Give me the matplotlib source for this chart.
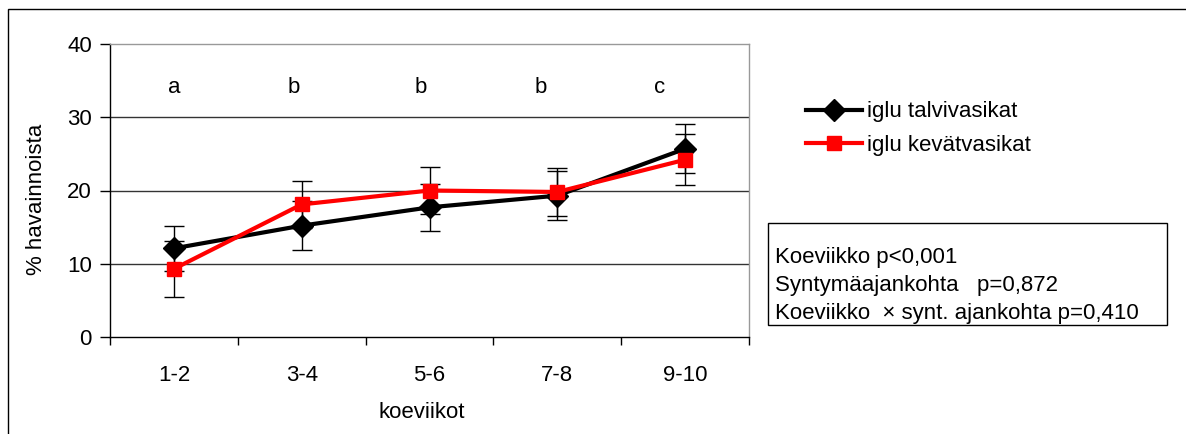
import numpy as np
import matplotlib.pyplot as plt
from matplotlib.patches import Rectangle
from matplotlib.lines import Line2D

plt.rcParams['font.family'] = ['Liberation Sans', 'DejaVu Sans']

# data
weeks = ['1-2', '3-4', '5-6', '7-8', '9-10']
talvi = [12.1, 15.2, 17.7, 19.3, 25.7]
talvi_err = [3.05, 3.3, 3.2, 3.3, 3.35]
kevat = [9.3, 18.1, 20.0, 19.8, 24.2]
kevat_err = [3.8, 3.2, 3.15, 3.3, 3.5]
letters = ['a', 'b', 'b', 'b', 'c']
letter_x = [0.0, 0.94, 1.93, 2.87, 3.80]
letter_y = 34.1
stats = ['Koeviikko p<0,001',
         'Syntymäajankohta   p=0,872',
         'Koeviikko  \u00d7 synt. ajankohta p=0,410']

FS = 16
W, H = 1186, 434
fig = plt.figure(figsize=(W / 100, H / 100), dpi=100)
ax = fig.add_axes([110 / W, (H - 337) / H, 639 / W, 293 / H])

x = np.arange(len(weeks))
ax.errorbar(x, talvi, yerr=talvi_err, color='black', lw=3, marker='D', ms=11,
            ecolor='black', elinewidth=1, capsize=7, capthick=1, zorder=3)
ax.errorbar(x, kevat, yerr=kevat_err, color='#ff0000', lw=3, marker='s', ms=10,
            ecolor='black', elinewidth=1, capsize=7, capthick=1, zorder=4)

for lx, t in zip(letter_x, letters):
    ax.text(lx, letter_y, t, ha='center', va='center', fontsize=FS)

ax.set_xlim(-0.5, len(weeks) - 0.5)
ax.set_ylim(0, 40)
ax.set_yticks([0, 10, 20, 30, 40])
ax.set_xticks(x)
ax.set_xticklabels(weeks)
ax.set_xticks(np.arange(len(weeks) + 1) - 0.5, minor=True)
ax.tick_params(axis='x', which='major', length=0, pad=20, labelsize=FS)
ax.tick_params(axis='x', which='minor', length=6, width=1)
ax.tick_params(axis='y', length=7, width=1, labelsize=FS, pad=6)
for yv in [10, 20, 30]:
    ax.axhline(yv, color='#333333', lw=1, zorder=1)
ax.spines['top'].set_color('#999999')
ax.spines['right'].set_color('#999999')
for s in ax.spines.values():
    s.set_linewidth(1)

ax.set_xlabel('koeviikot', fontsize=FS)
ax.set_ylabel('% havainnoista', fontsize=FS)
ax.xaxis.set_label_coords((422 - 110) / 639, -(413 - 337) / 293)
ax.yaxis.set_label_coords(-(110 - 37) / 639, (337 - 199) / 293)
ax.xaxis.label.set_va('center')
ax.yaxis.label.set_va('center')

handles = [Line2D([], [], color='black', lw=3, marker='D', ms=11),
           Line2D([], [], color='#ff0000', lw=3, marker='s', ms=10)]
fig.legend(handles, ['iglu talvivasikat', 'iglu kevätvasikat'],
           loc='center left', bbox_to_anchor=(806 / W, 1 - 128.5 / H),
           frameon=False, fontsize=FS, handlelength=2.5, handletextpad=0.25,
           labelspacing=0.55, borderpad=0, borderaxespad=0)

# stats box
fig.patches.append(Rectangle((768 / W, 1 - 325 / H), 399 / W, 102 / H,
                             transform=fig.transFigure, fill=False,
                             edgecolor='black', lw=1))
for i, s in enumerate(stats):
    fig.text(775 / W, 1 - (257 + 28 * i) / H, s, fontsize=FS, va='center')

# outer frame
fig.patches.append(Rectangle((8 / W, -0.1), 1.2, 1.1 - 9 / H,
                             transform=fig.transFigure, fill=False,
                             edgecolor='black', lw=1))

fig.savefig('out.png', dpi=100)
